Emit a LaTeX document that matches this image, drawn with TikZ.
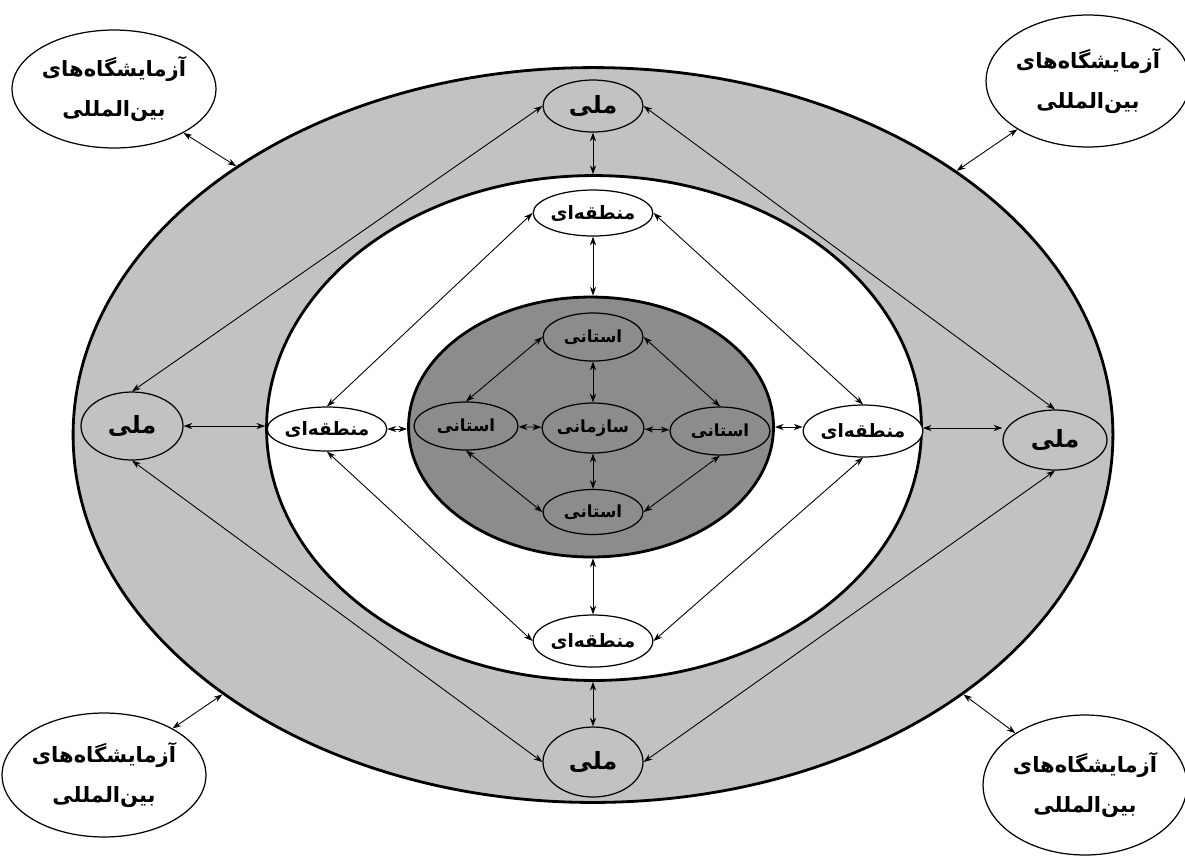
\documentclass[tikz,border=0pt]{standalone}
\usepackage{fontspec}
\TeXXeTstate=1
\newfontfamily\fa[Script=Arabic]{DejaVu Sans}
\usetikzlibrary{shapes.geometric, arrows.meta}
\definecolor{ringgray}{RGB}{194,194,194}
\definecolor{coregray}{RGB}{140,140,140}
\begin{document}
\begin{tikzpicture}[x=0.02cm, y=-0.02cm,
  big/.style={ellipse, draw, line width=1.6pt, inner sep=0pt},
  nd/.style={ellipse, draw, line width=0.7pt, inner sep=0pt},
  corner/.style={nd, fill=white, align=center, font=\fa\bfseries\fontsize{12}{23}\selectfont},
  meli/.style={nd, font=\fa\bfseries\fontsize{13.5}{15}\selectfont},
  mant/.style={nd, fill=white, font=\fa\bfseries\fontsize{10.5}{12}\selectfont},
  ost/.style={nd, font=\fa\bfseries\fontsize{9.5}{11}\selectfont},
  arr/.style={{Stealth[length=5pt,width=3.5pt]}-{Stealth[length=5pt,width=3.5pt]}, line width=0.5pt},
]
\useasboundingbox (0,0) rectangle (1185,860);
\fill[white] (0,0) rectangle (1185,860);
% big rings
\node[big, fill=ringgray, minimum width=20.8cm, minimum height=14.7cm] (outer) at (593,435) {};
\node[big, fill=white, minimum width=13.1cm, minimum height=10.1cm] (white) at (594,428) {};
\node[big, fill=coregray, minimum width=7.3cm, minimum height=5.2cm] (core) at (591,427) {};
% corner nodes
\node[corner, minimum width=3.96cm, minimum height=2.36cm] (tl) at (114,89) {\beginR آزمایشگاه‌های\endR\\\beginR بین‌المللی\endR};
\node[corner, minimum width=3.84cm, minimum height=2.64cm] (tr) at (1088,81) {\beginR آزمایشگاه‌های\endR\\\beginR بین‌المللی\endR};
\node[corner, minimum width=3.88cm, minimum height=2.48cm] (bl) at (104,775) {\beginR آزمایشگاه‌های\endR\\\beginR بین‌المللی\endR};
\node[corner, minimum width=4.0cm, minimum height=2.8cm] (br) at (1085,785) {\beginR آزمایشگاه‌های\endR\\\beginR بین‌المللی\endR};
% national
\node[meli, minimum width=2.0cm, minimum height=1.04cm] (m1) at (593,106) {\beginR ملی\endR};
\node[meli, minimum width=2.04cm, minimum height=1.36cm] (m2) at (132,426) {\beginR ملی\endR};
\node[meli, minimum width=2.08cm, minimum height=1.2cm] (m3) at (1055,440) {\beginR ملی\endR};
\node[meli, minimum width=2.0cm, minimum height=1.4cm] (m4) at (593,762) {\beginR ملی\endR};
% regional
\node[mant, minimum width=2.0cm, minimum height=0.92cm] (r1) at (593,213) {\beginR منطقه‌ای\endR};
\node[mant, minimum width=2.0cm, minimum height=0.88cm] (r2) at (327,429) {\beginR منطقه‌ای\endR};
\node[mant, minimum width=2.0cm, minimum height=1.04cm] (r3) at (863,431) {\beginR منطقه‌ای\endR};
\node[mant, minimum width=2.0cm, minimum height=1.04cm] (r4) at (593,641) {\beginR منطقه‌ای\endR};
% provincial
\node[ost, minimum width=2.0cm, minimum height=0.96cm] (s1) at (593,337) {\beginR استانی\endR};
\node[ost, minimum width=2.08cm, minimum height=0.96cm] (s2) at (466,426) {\beginR استانی\endR};
\node[ost, minimum width=2.0cm, minimum height=0.96cm] (s3) at (720,431) {\beginR استانی\endR};
\node[ost, minimum width=2.0cm, minimum height=0.9cm] (s4) at (593,512) {\beginR استانی\endR};
\node[ost, minimum width=2.0cm, minimum height=1.0cm] (c) at (593,428) {\beginR سازمانی\endR};
% corner arrows
\draw[arr] (tl) -- (outer.143);
\draw[arr] (tr) -- (outer.36);
\draw[arr] (bl) -- (outer.215);
\draw[arr] (br) -- (outer.325);
% ring arrows
\draw[arr] (m1.south) -- (m1.south |- white.north);
\draw[arr] (m2.east) -- (m2.east -| white.west);
\draw[arr] (white.east) -- (white.east -| m3.west);
\draw[arr] (m4.north) -- (m4.north |- white.south);
\draw[arr] (r1.south) -- (r1.south |- core.north);
\draw[arr] (r2.east) -- (r2.east -| core.west);
\draw[arr] (core.east) -- (core.east -| r3.west);
\draw[arr] (r4.north) -- (r4.north |- core.south);
% diagonals
\draw[arr] (m1.west) -- (m2.north);
\draw[arr] (m1.east) -- (m3.north);
\draw[arr] (m4.west) -- (m2.south);
\draw[arr] (m4.east) -- (m3.south);
\draw[arr] (r1.west) -- (r2.north);
\draw[arr] (r1.east) -- (r3.north);
\draw[arr] (r4.west) -- (r2.south);
\draw[arr] (r4.east) -- (r3.south);
\draw[arr] (s1.west) -- (s2.north);
\draw[arr] (s1.east) -- (s3.north);
\draw[arr] (s4.west) -- (s2.south);
\draw[arr] (s4.east) -- (s3.south);
% centre
\draw[arr] (c) -- (s1);
\draw[arr] (c) -- (s2);
\draw[arr] (c) -- (s3);
\draw[arr] (c) -- (s4);
\end{tikzpicture}
\end{document}
